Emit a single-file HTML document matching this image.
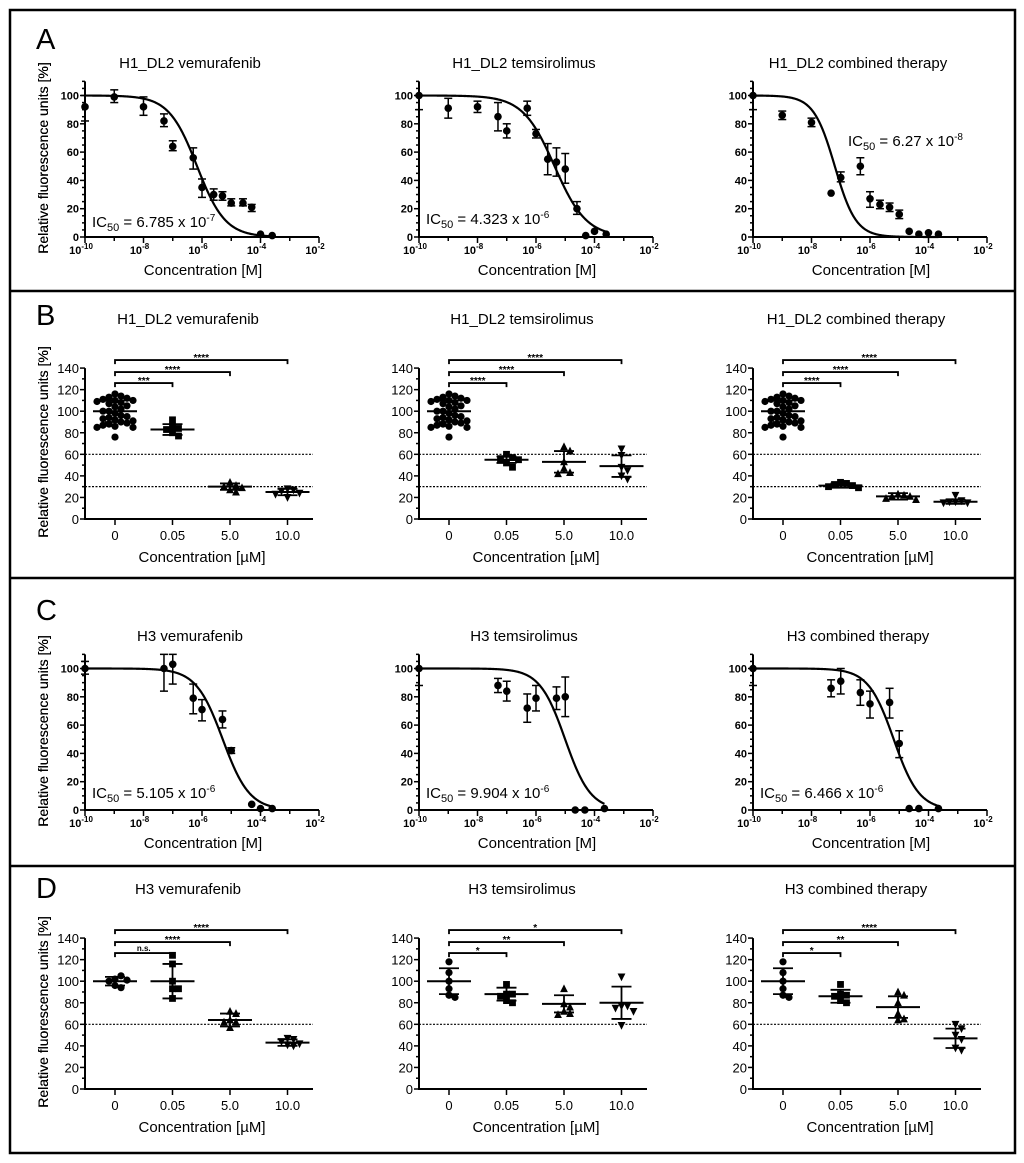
<!DOCTYPE html>
<html><head><meta charset="utf-8"><style>
body{margin:0;background:#fff}
svg{display:block;font-family:"Liberation Sans",Arial,sans-serif}
</style></head><body>
<svg id="fig" width="1024" height="1163" viewBox="0 0 1024 1163" xmlns="http://www.w3.org/2000/svg">
<rect x="10" y="10" width="1005" height="1143" fill="none" stroke="#000" stroke-width="2.5"/>
<line x1="10" x2="1015" y1="291" y2="291" stroke="#000" stroke-width="2.5"/>
<line x1="10" x2="1015" y1="578" y2="578" stroke="#000" stroke-width="2.5"/>
<line x1="10" x2="1015" y1="866" y2="866" stroke="#000" stroke-width="2.5"/>
<text x="36" y="49" font-size="29">A</text>
<text x="36" y="325" font-size="29">B</text>
<text x="36" y="620" font-size="29">C</text>
<text x="36" y="898" font-size="29">D</text>
<g id="plots"></g>
</svg>
<script>
// ---------- dose-response data (log10 M) ----------
const a1X=[-10,-9,-8,-7.3,-7,-6.3,-6,-5.6,-5.3,-5,-4.6,-4.3,-4,-3.6];
const a1Y=[92,99,92,82,64,56,35,30,29,24,24,21,2,1];
const a1Lo=[82,95,86,78,61,48,28,26,26,22,22,18,null,null];
const a1Hi=[100,104,99,87,68,63,41,34,32,27,27,23,null,null];
const a1Ic50=[6.785e-7], a1Hill=[0.9];
const a2X=[-10,-9,-8,-7.3,-7,-6.3,-6,-5.6,-5.3,-5,-4.6,-4.3,-4,-3.6];
const a2Y=[100,91,92,85,75,91,73,55,53,48,20,1,4,2];
const a2Lo=[90,84,88,75,70,86,70,44,43,38,16,null,null,null];
const a2Hi=[100,98,96,95,80,96,76,66,63,59,25,null,null,null];
const a2Ic50=[4.323e-6], a2Hill=[0.8];
const a3X=[-10,-9,-8,-7.33,-7,-6.33,-6,-5.66,-5.33,-5,-4.66,-4.33,-4,-3.66];
const a3Y=[100,86,81,31,42,50,27,23,21,16,4,2,3,2];
const a3Lo=[90,83,78,null,39,44,21,20,18,13,null,null,null,null];
const a3Hi=[100,89,84,null,46,56,32,26,24,19,null,null,null,null];
const a3Ic50=[6.27e-8], a3Hill=[1.2];
const c1X=[-10,-7.3,-7,-6.3,-6,-5.3,-5,-4.3,-4,-3.6];
const c1Y=[100,100,103,79,71,64,42,4,1,1];
const c1Lo=[96,84,89,68,63,58,40,null,null,null];
const c1Hi=[105,110,110,89,78,70,44,null,null,null];
const c1Ic50=[5.105e-6], c1Hill=[0.95];
const c2X=[-10,-7.3,-7,-6.3,-6,-5.3,-5,-4.66,-4.33,-3.66];
const c2Y=[100,88,84,72,79,79,80,0,0,1];
const c2Lo=[88,83,77,62,70,71,66,null,null,null];
const c2Hi=[100,93,91,82,88,87,94,null,null,null];
const c2Ic50=[9.904e-6], c2Hill=[1.0];
const c3X=[-10,-7.33,-7,-6.33,-6,-5.33,-5,-4.66,-4.33,-3.66];
const c3Y=[100,86,91,83,75,76,47,1,1,1];
const c3Lo=[88,80,82,74,65,65,37,null,null,null];
const c3Hi=[100,92,100,92,84,86,56,null,null,null];
const c3Ic50=[6.466e-6], c3Hill=[1.0];
const logTicks=[-10,-8,-6,-4,-2];

// ---------- scatter data ----------
const catLabels=["0","0.05","5.0","10.0"];
const ctrl30=[116,114,113,112,111,110,110,109,108,107,105,104,102,100,100,98,96,95,94,93,92,91,90,89,88,87,86,85,85,76];
const b1G=[ctrl30,[92,86,84,83,80,77],[34,31,30,29,27,25],[28,27,26,24,23,20]];
const b1Mean=[100,83,30,25], b1Sd=[10,5,3,3];
const b1Stars=["***","****","****"];
const b2G=[ctrl30,[60,57,56,55,52,48],[67,63,53,47,43,42],[65,59,48,45,40,37]];
const b2Mean=[100,55,53,49], b2Sd=[10,3,10,10];
const b2Stars=["****","****","****"];
const b3G=[ctrl30,[34,33,32,31,30,29],[23,22,21,21,19,18],[22,17,16,16,15,15]];
const b3Mean=[100,31,21,16], b3Sd=[10,2,3,2];
const b3Stars=["****","****","****"];
const d1G=[[102,105,100,96,94,101],[124,116,100,93,93,84],[72,70,64,62,62,57],[47,46,44,42,41,40]];
const d1Mean=[100,100,64,43], d1Sd=[4,16,6,3];
const d1Stars=["n.s.","****","****"];
const d2G=[[118,108,100,93,87,85],[97,88,88,86,82,80],[93,79,76,72,70,69],[104,77,77,75,72,59]];
const d2Mean=[100,88,79,80], d2Sd=[12,6,8,15];
const d2Stars=["*","**","*"];
const d3G=[[118,108,100,93,87,85],[97,88,87,86,82,80],[90,87,80,70,65,64],[60,56,50,46,38,36]];
const d3Mean=[100,86,76,47], d3Sd=[12,6,10,9];
const d3Stars=["*","**","****"];

const NS="http://www.w3.org/2000/svg";
const root=document.getElementById('plots');
function mk(tag,attrs,parent,txt){const e=document.createElementNS(NS,tag);for(const k in attrs)e.setAttribute(k,attrs[k]);if(txt!=null)e.textContent=txt;(parent||root).appendChild(e);return e;}
function line(p,x1,y1,x2,y2,w,dash){const l=mk('line',{x1:x1,y1:y1,x2:x2,y2:y2,stroke:'#000','stroke-width':w||1.5},p);if(dash)l.setAttribute('stroke-dasharray',dash);return l;}

function yTitle(g,x,cy){const t=mk('text',{x:x,y:cy,'font-size':14,'text-anchor':'middle',transform:'rotate(-90 '+x+' '+cy+')'},g,'Relative fluorescence units [%]');

}

function dose(name,x0,y0,xs,ys,lo,hi,ic50,hill,title,icTxt,icPos){
  const g=mk('g',{});
  
  
  const sx=v=>x0+(v+10)*29.25, sy=v=>y0-v*1.415;
  const t=mk('text',{x:x0+105,y:y0-169,'font-size':15,'text-anchor':'middle'},g,title);
  
  
  yTitle(g,48,y0-79);
  line(g,x0,sy(110),x0,y0+1,2);line(g,x0-1,y0,sx(-2),y0,2);
  for(let v=0;v<=110;v+=5){const maj=v%20===0&&v<=100;line(g,x0-(maj?5:3),sy(v),x0,sy(v),1.5);
    if(maj){const tl=mk('text',{x:x0-6,y:sy(v)+4,'font-size':11,'font-weight':'bold','text-anchor':'end'},g,String(v));
      
      }}
  for(let d=-10;d<=-2;d++){line(g,sx(d),y0,sx(d),y0+(d%2===0?6:4),1.5);}
  logTicks.forEach(d=>{const tl=mk('text',{x:sx(d)-4,y:y0+17,'font-size':11,'font-weight':'bold','text-anchor':'middle'},g,'10');
    mk('tspan',{dy:-5,'font-size':8},tl,String(d));
    
    });
  const xl=mk('text',{x:x0+118,y:y0+38,'font-size':15,'text-anchor':'middle'},g,'Concentration [M]');
  
  
  const lc=Math.log10(ic50[0]);let d='';const xmax=Math.max(...xs);
  for(let x=-10;x<=xmax+1e-9;x+=0.02){const y=100/(1+Math.pow(10,(x-lc)*hill[0]));d+=(d?'L':'M')+sx(x).toFixed(2)+','+sy(y).toFixed(2);}
  const c=mk('path',{d:d,fill:'none',stroke:'#000','stroke-width':2.2},g);
  
  
  xs.forEach((x,i)=>{
    if(lo[i]!=null){line(g,sx(x),sy(lo[i]),sx(x),sy(hi[i]),1.5);line(g,sx(x)-4,sy(lo[i]),sx(x)+4,sy(lo[i]),1.5);line(g,sx(x)-4,sy(hi[i]),sx(x)+4,sy(hi[i]),1.5);}
    const p=mk('circle',{cx:sx(x),cy:sy(ys[i]),r:3.8,fill:'#000'},g);
    
    
  });
  const ic=mk('text',{x:x0+icPos[0],y:y0-icPos[1],'font-size':15},g,'IC');
  mk('tspan',{dy:4,'font-size':11},ic,'50');
  mk('tspan',{dy:-4},ic,' = '+icTxt+' x 10');
  mk('tspan',{dy:-6,'font-size':10},ic,String(Math.round(Math.log10(ic50[0])-0.5)));
  
  
}

function marker(g,shape,x,y){let e;const s=3.4;
  if(shape===0)e=mk('circle',{cx:x,cy:y,r:3.6,fill:'#000'},g);
  else if(shape===1)e=mk('rect',{x:x-s,y:y-s,width:2*s,height:2*s,fill:'#000'},g);
  else if(shape===2)e=mk('polygon',{points:`${x},${y-s-1} ${x-s-0.5},${y+s} ${x+s+0.5},${y+s}`,fill:'#000'},g);
  else e=mk('polygon',{points:`${x},${y+s+1} ${x-s-0.5},${y-s} ${x+s+0.5},${y-s}`,fill:'#000'},g);
  
  }

function swarm(vals,sy){
  const placed=[];const cand=[0,6,-6,12,-12,18,-18,22,-22];
  return vals.map((v,j)=>{const py=sy(v);let off=null;
    for(const c of cand){if(!placed.some(p=>Math.abs(p[0]-c)<6&&Math.abs(p[1]-py)<6)){off=c;break;}}
    if(off===null)off=((j*7)%9-4)*4;
    placed.push([off,py]);return off;});}

function scatter(name,x0,y0,groups,means,sds,stars,title,lines){
  const g=mk('g',{});
  
  
  const sy=v=>y0-v*1.078, cx=i=>x0+30+57.5*i, top=sy(140);
  const t=mk('text',{x:x0+103,y:y0-195,'font-size':15,'text-anchor':'middle'},g,title);
  
  
  yTitle(g,48,y0-77);
  line(g,x0,top,x0,y0+1,2);line(g,x0-1,y0,x0+228,y0,2);
  for(let v=0;v<=140;v+=10){line(g,x0-(v%20===0?5:3),sy(v),x0,sy(v),1.5);
    if(v%20===0){const tl=mk('text',{x:x0-6,y:sy(v)+5,'font-size':13,'text-anchor':'end'},g,String(v));
      
      }}
  catLabels.forEach((c,i)=>{line(g,cx(i),y0,cx(i),y0+6,1.5);
    const tl=mk('text',{x:cx(i),y:y0+21,'font-size':13,'text-anchor':'middle'},g,c);
    
    });
  const xl=mk('text',{x:x0+117,y:y0+43,'font-size':15,'text-anchor':'middle'},g,'Concentration [\u00b5M]');
  
  
  lines.forEach(v=>{const l=line(g,x0,sy(v),x0+228,sy(v),1.2,'2,1.5');
    
    });
  groups.forEach((arr,i)=>{
    const offs=swarm(arr,sy);
    arr.forEach((v,j)=>{marker(g,i,cx(i)+offs[j],sy(v));});
    const m=means[i],s=sds[i];
    line(g,cx(i)-22,sy(m),cx(i)+22,sy(m),2);line(g,cx(i),sy(m-s),cx(i),sy(m+s),1.8);
    line(g,cx(i)-10,sy(m-s),cx(i)+10,sy(m-s),1.8);line(g,cx(i)-10,sy(m+s),cx(i)+10,sy(m+s),1.8);
  });
  const by=[top+15,top+4,top-8];
  stars.forEach((st,k)=>{const y=by[k],xe=cx(k+1);
    const b=mk('path',{d:`M${cx(0)},${y+4}V${y}H${xe}V${y+4}`,fill:'none',stroke:'#000','stroke-width':1.8},g);
    
    
    const s=mk('text',{x:(cx(0)+xe)/2,y:st==='n.s.'?y-2:y+1,'font-size':st==='n.s.'?8:10,'font-weight':'bold','text-anchor':'middle'},g,st);
    
    });
}

const colX=[85,419,753];
dose('chart-a1',colX[0],237,a1X,a1Y,a1Lo,a1Hi,a1Ic50,a1Hill,'H1_DL2 vemurafenib','6.785',[7,10]);
dose('chart-a2',colX[1],237,a2X,a2Y,a2Lo,a2Hi,a2Ic50,a2Hill,'H1_DL2 temsirolimus','4.323',[7,13]);
dose('chart-a3',colX[2],237,a3X,a3Y,a3Lo,a3Hi,a3Ic50,a3Hill,'H1_DL2 combined therapy','6.27',[95,91]);
scatter('chart-b1',colX[0],519,b1G,b1Mean,b1Sd,b1Stars,'H1_DL2 vemurafenib',[60,30]);
scatter('chart-b2',colX[1],519,b2G,b2Mean,b2Sd,b2Stars,'H1_DL2 temsirolimus',[60,30]);
scatter('chart-b3',colX[2],519,b3G,b3Mean,b3Sd,b3Stars,'H1_DL2 combined therapy',[60,30]);
dose('chart-c1',colX[0],810,c1X,c1Y,c1Lo,c1Hi,c1Ic50,c1Hill,'H3 vemurafenib','5.105',[7,12]);
dose('chart-c2',colX[1],810,c2X,c2Y,c2Lo,c2Hi,c2Ic50,c2Hill,'H3 temsirolimus','9.904',[7,12]);
dose('chart-c3',colX[2],810,c3X,c3Y,c3Lo,c3Hi,c3Ic50,c3Hill,'H3 combined therapy','6.466',[7,12]);
scatter('chart-d1',colX[0],1089,d1G,d1Mean,d1Sd,d1Stars,'H3 vemurafenib',[60]);
scatter('chart-d2',colX[1],1089,d2G,d2Mean,d2Sd,d2Stars,'H3 temsirolimus',[60]);
scatter('chart-d3',colX[2],1089,d3G,d3Mean,d3Sd,d3Stars,'H3 combined therapy',[60]);
</script>
</body></html>
